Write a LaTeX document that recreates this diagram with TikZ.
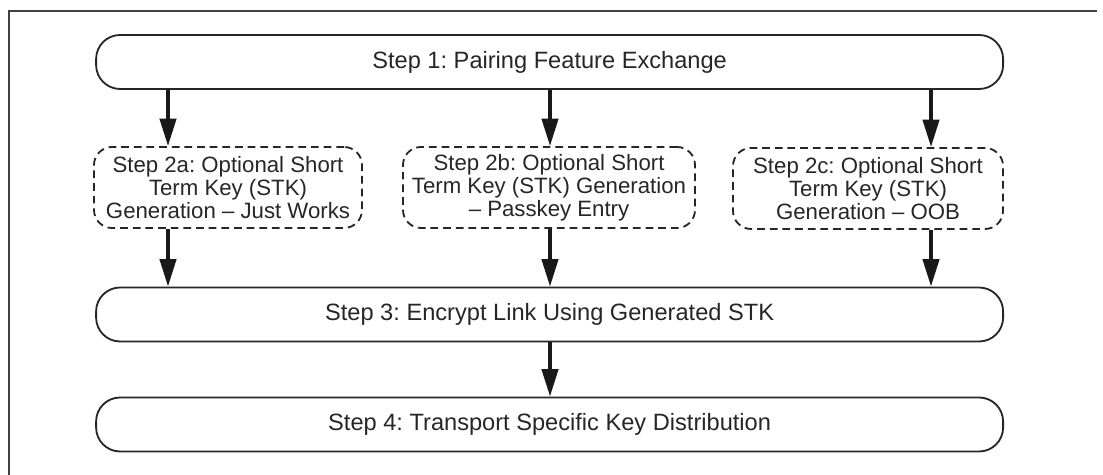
\documentclass[tikz,border=0pt]{standalone}
\usepackage{fontspec}
\setmainfont{Liberation Sans}
\usetikzlibrary{arrows.meta}
\frenchspacing
\begin{document}
\begin{tikzpicture}

\tikzset{stepbox/.style = {shape=rectangle,draw=black!85,line width=1.3pt,rounded corners=0.6cm,minimum width=22.675cm,minimum height=1.35cm,inner sep=0pt,text=black!85,font=\fontsize{16.8}{18}\selectfont}}
\tikzset{optbox/.style = {shape=rectangle,draw=black!85,line width=1.3pt,dash pattern=on 5.5pt off 3.5pt,rounded corners=0.45cm,minimum height=2.025cm,inner sep=0pt,align=center,text=black!85,font=\fontsize{15.8}{16.4}\selectfont}}
\tikzset{flow/.style = {-{Triangle[length=19.5pt,width=11.5pt]},line width=2.6pt,draw=black!90}}
\useasboundingbox (0,0) rectangle (27.575,11.875);
%frame
\draw[line width=1.2pt,black!75] (0.225,0) -- (0.225,11.6) -- (27.425,11.6);
%boxes
\node[stepbox] (s1) at (13.74,10.325) {Step 1: Pairing Feature Exchange};
\node[optbox,minimum width=6.7cm] (s2a) at (5.7,7.1875) {Step 2a: Optional Short\\Term Key (STK)\\Generation \textendash\ Just Works};
\node[optbox,minimum width=7.3cm] (s2b) at (13.725,7.1875) {Step 2b: Optional Short\\Term Key (STK) Generation\\\textendash\ Passkey Entry};
\node[optbox,minimum width=6.75cm] (s2c) at (21.7,7.1625) {Step 2c: Optional Short\\Term Key (STK)\\Generation \textendash\ OOB};
\node[stepbox] (s3) at (13.74,4.0125) {Step 3: Encrypt Link Using Generated STK};
\node[stepbox] (s4) at (13.74,1.2625) {Step 4: Transport Specific Key Distribution};
%arrows
\coordinate (ca) at (4.2,0);
\coordinate (cb) at (13.75,0);
\coordinate (cc) at (23.275,0);
\draw[flow] (s1.south -| ca) -- (s2a.north -| ca);
\draw[flow] (s1.south -| cb) -- (s2b.north -| cb);
\draw[flow] (s1.south -| cc) -- (s2c.north -| cc);
\draw[flow] (s2a.south -| ca) -- (s3.north -| ca);
\draw[flow] (s2b.south -| cb) -- (s3.north -| cb);
\draw[flow] (s2c.south -| cc) -- (s3.north -| cc);
\draw[flow] (s3.south -| cb) -- (s4.north -| cb);

\end{tikzpicture}
\end{document}
